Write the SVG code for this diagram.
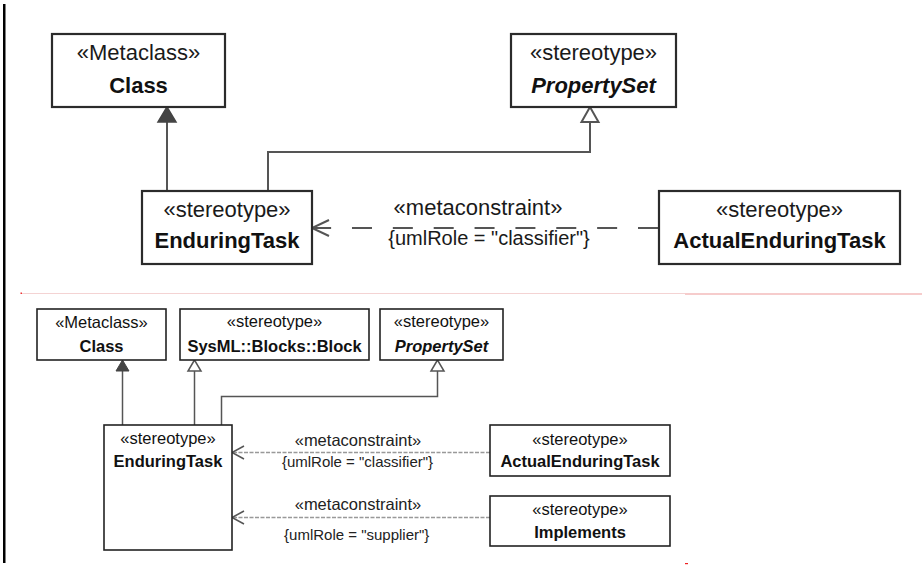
<svg xmlns="http://www.w3.org/2000/svg" width="922" height="565" viewBox="0 0 922 565">
<style>
text{font-family:"Liberation Sans",Arial,sans-serif;text-anchor:middle;}
.tb{fill:#fff;stroke:#2b2b2b;stroke-width:2.2;}
.bb{fill:#fff;stroke:#222;stroke-width:1.6;}
.tt{font-size:22px;fill:#1a1a1a;}
.tn{font-size:22px;font-weight:bold;fill:#111;}
.bt{font-size:16.5px;fill:#111;}
.bn{font-size:16.5px;font-weight:bold;fill:#111;}
.it{font-style:italic;}
.tl{fill:none;stroke:#555;stroke-width:2;}
.bl{fill:none;stroke:#555;stroke-width:1.5;}
.bd{fill:none;stroke:#999;stroke-width:1.6;stroke-dasharray:4 1.5;}
.lab{font-size:16.5px;fill:#222;}
.role{font-size:15px;fill:#222;}
</style>
<rect x="3" y="4" width="2.5" height="559" fill="#000"/>
<line x1="21" y1="293.5" x2="685" y2="293.5" stroke="#f4d3d3" stroke-width="1"/>
<line x1="685" y1="294" x2="922" y2="294" stroke="#f6cccc" stroke-width="2"/>
<rect x="20.5" y="292.5" width="1.5" height="1.5" fill="#e33"/>
<rect x="685" y="563" width="3" height="1.2" fill="#e22"/>

<g id="connectors">
  <g id="top-connectors">
    <line class="tl" x1="167" y1="191" x2="167" y2="121"/>
    <polygon points="167,107 158,122 176,122" fill="#444" stroke="#444" stroke-width="1.5"/>
    <polyline class="tl" points="268,191 268,152 590,152 590,122"/>
    <polygon points="590,107 581.5,122 598.5,122" fill="#fff" stroke="#555" stroke-width="2"/>
    <path d="M658,228 H312" fill="none" stroke="#555" stroke-width="2" stroke-dasharray="20 20.86"/>
    <polyline class="tl" points="329,220 312,228 329,236"/>
    <text class="tt" x="478" y="215">«metaconstraint»</text>
    <text class="tt" x="489" y="245" style="font-size:20px">{umlRole = "classifier"}</text>
  </g>
  <g id="bottom-connectors">
    <line class="bl" x1="122.5" y1="425" x2="122.5" y2="370"/>
    <polygon points="122.5,360 116,371 129,371" fill="#444" stroke="#444" stroke-width="1"/>
    <line class="bl" x1="194.5" y1="425" x2="194.5" y2="371"/>
    <polygon points="194.5,360 188,371 201,371" fill="#fff" stroke="#555" stroke-width="1.5"/>
    <polyline class="bl" points="221.5,425 221.5,396.5 437.5,396.5 437.5,371"/>
    <polygon points="437.5,360 431,371 444,371" fill="#fff" stroke="#555" stroke-width="1.5"/>
    <line class="bd" x1="490" y1="452.5" x2="232" y2="452.5"/>
    <polyline class="bl" points="244,446 232,452.5 244,459"/>
    <line class="bd" x1="490" y1="517.5" x2="232" y2="517.5"/>
    <polyline class="bl" points="244,511 232,517.5 244,524"/>
    <text class="lab" x="358" y="446">«metaconstraint»</text>
    <text class="role" x="357.5" y="466.7">{umlRole = "classifier"}</text>
    <text class="lab" x="358" y="510">«metaconstraint»</text>
    <text class="role" x="356.7" y="540">{umlRole = "supplier"}</text>
  </g>
</g>

<g id="top-class">
  <rect class="tb" x="52" y="34" width="173" height="73"/>
  <text class="tt" x="138.5" y="60">«Metaclass»</text>
  <text class="tn" x="138.5" y="93">Class</text>
</g>
<g id="top-propertyset">
  <rect class="tb" x="511" y="34" width="165" height="73"/>
  <text class="tt" x="593.5" y="60">«stereotype»</text>
  <text class="tn it" x="593.5" y="93">PropertySet</text>
</g>
<g id="top-enduringtask">
  <rect class="tb" x="142" y="191" width="170" height="73"/>
  <text class="tt" x="227" y="217">«stereotype»</text>
  <text class="tn" x="227" y="248">EnduringTask</text>
</g>
<g id="top-actualenduringtask">
  <rect class="tb" x="659" y="191" width="241" height="73"/>
  <text class="tt" x="779.5" y="217">«stereotype»</text>
  <text class="tn" x="779.5" y="248">ActualEnduringTask</text>
</g>

<g id="bottom-class">
  <rect class="bb" x="37" y="309" width="129" height="51"/>
  <text class="bt" x="101.5" y="327.5">«Metaclass»</text>
  <text class="bn" x="101.5" y="351.7">Class</text>
</g>
<g id="bottom-block">
  <rect class="bb" x="180" y="309" width="189" height="51"/>
  <text class="bt" x="274.5" y="327">«stereotype»</text>
  <text class="bn" x="274.5" y="351.7">SysML::Blocks::Block</text>
</g>
<g id="bottom-propertyset">
  <rect class="bb" x="380" y="309" width="123" height="51"/>
  <text class="bt" x="441.5" y="327">«stereotype»</text>
  <text class="bn it" x="441.5" y="351.7">PropertySet</text>
</g>
<g id="bottom-enduringtask">
  <rect class="bb" x="104" y="425" width="128" height="125"/>
  <text class="bt" x="168" y="444.3">«stereotype»</text>
  <text class="bn" x="168" y="467.3">EnduringTask</text>
</g>
<g id="bottom-actualenduringtask">
  <rect class="bb" x="490" y="425" width="180" height="51"/>
  <text class="bt" x="580" y="445">«stereotype»</text>
  <text class="bn" x="580" y="466.7">ActualEnduringTask</text>
</g>
<g id="bottom-implements">
  <rect class="bb" x="490" y="496" width="180" height="50"/>
  <text class="bt" x="580" y="515">«stereotype»</text>
  <text class="bn" x="580" y="538">Implements</text>
</g>
</svg>
